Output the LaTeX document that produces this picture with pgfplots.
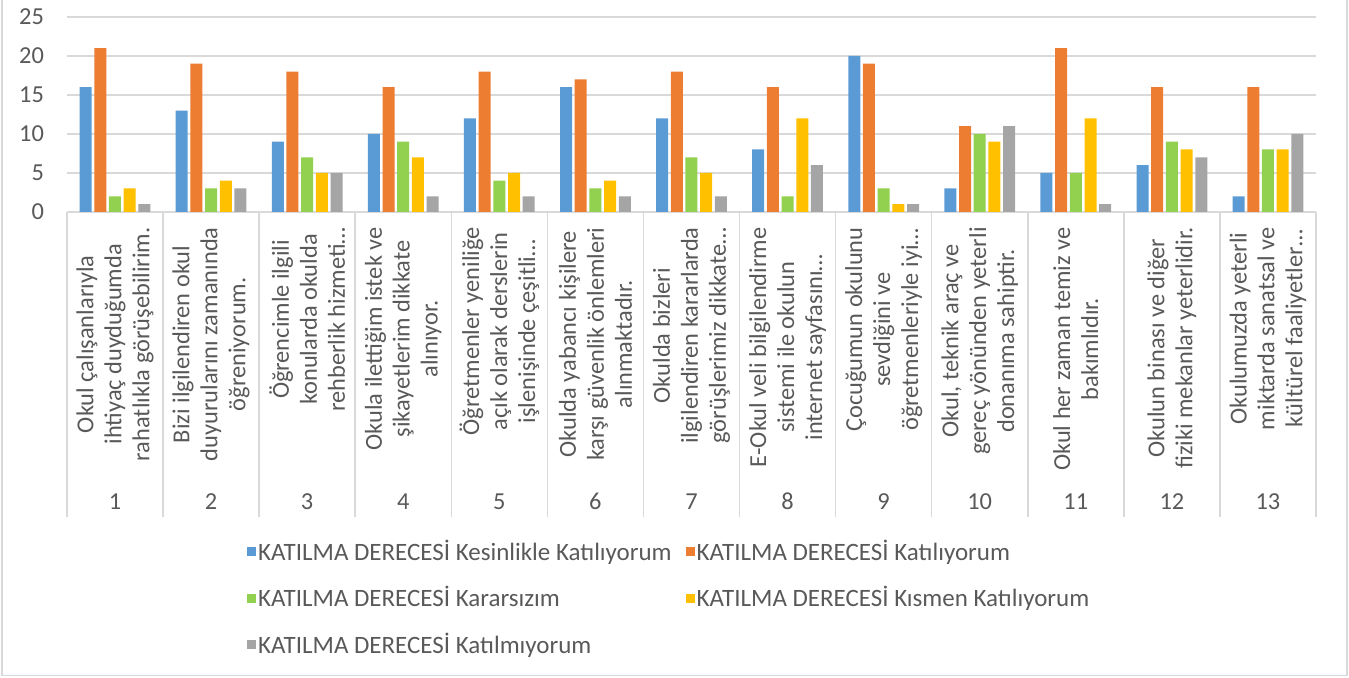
\documentclass[border=0pt]{standalone}
\usepackage{pgfplots}
\pgfplotsset{compat=1.18}
\usepackage{fontspec}
\setmainfont{Carlito}
\definecolor{cBlue}{HTML}{5B9BD5}
\definecolor{cOrange}{HTML}{ED7D31}
\definecolor{cGreen}{HTML}{92D050}
\definecolor{cYellow}{HTML}{FFC000}
\definecolor{cGrey}{HTML}{A5A5A5}
\definecolor{txt}{HTML}{595959}
\definecolor{gridc}{HTML}{D9D9D9}
\begin{document}
\begin{tikzpicture}
\useasboundingbox (-33.5pt,-233pt) rectangle (641.5pt,106pt);
\draw[gridc, line width=0.75pt] (-32.5pt,-232pt) rectangle (640.5pt,106.5pt);
\begin{axis}[
  at={(0,0)}, anchor=south west,
  scale only axis, width=625pt, height=97.5pt,
  ybar=1.35pt, bar width=6pt,
  xmin=0.5, xmax=13.5, ymin=0, ymax=25,
  xtick={1,...,13},
  xticklabels={
    {Okul çalışanlarıyla\\ihtiyaç duyduğumda\\rahatlıkla görüşebilirim.},
    {Bizi ilgilendiren okul\\duyurularını zamanında\\öğreniyorum.},
    {Öğrencimle ilgili\\konularda okulda\\rehberlik hizmeti…},
    {Okula ilettiğim istek ve\\şikayetlerim dikkate\\alınıyor.},
    {Öğretmenler yeniliğe\\açık olarak derslerin\\işlenişinde çeşitli…},
    {Okulda yabancı kişilere\\karşı güvenlik önlemleri\\alınmaktadır.},
    {Okulda bizleri\\ilgilendiren kararlarda\\görüşlerimiz dikkate…},
    {E-Okul veli bilgilendirme\\sistemi ile okulun\\internet sayfasını…},
    {Çocuğumun okulunu\\sevdiğini ve\\öğretmenleriyle iyi…},
    {Okul, teknik araç ve\\gereç yönünden yeterli\\donanıma sahiptir.},
    {Okul her zaman temiz ve\\bakımlıdır.},
    {Okulun binası ve diğer\\fiziki mekanlar yeterlidir.},
    {Okulumuzda yeterli\\miktarda sanatsal ve\\kültürel faaliyetler…}},
  ytick={0,5,...,25},
  ymajorgrids, grid style={gridc, line width=0.75pt},
  axis line style={draw=none},
  tick style={draw=none},
  clip=false,
  /pgf/number format/assume math mode=true,
  tick label style={font=\fontsize{12.2}{14}\selectfont, text=txt},
  yticklabel style={xshift=-8pt},
  xticklabel style={rotate=90, anchor=east, align=center},
  legend columns=2,
  legend cell align=left,
  legend image code/.code={\fill[#1] (0pt,-2.25pt) rectangle (4.5pt,2.25pt);},
  legend style={at={(axis description cs:0,0)}, anchor=north west,
    xshift=90pt, yshift=-163pt, draw=none, fill=none, inner sep=0pt,
    nodes={inner sep=1pt},
    font=\fontsize{12.5}{14}\selectfont, text=txt, row sep=9.5pt,
    /tikz/every even column/.append style={column sep=6pt}},
]
\addplot[fill=cBlue, draw=none] coordinates {(1,16)(2,13)(3,9)(4,10)(5,12)(6,16)(7,12)(8,8)(9,20)(10,3)(11,5)(12,6)(13,2)};
\addplot[fill=cOrange, draw=none] coordinates {(1,21)(2,19)(3,18)(4,16)(5,18)(6,17)(7,18)(8,16)(9,19)(10,11)(11,21)(12,16)(13,16)};
\addplot[fill=cGreen, draw=none] coordinates {(1,2)(2,3)(3,7)(4,9)(5,4)(6,3)(7,7)(8,2)(9,3)(10,10)(11,5)(12,9)(13,8)};
\addplot[fill=cYellow, draw=none] coordinates {(1,3)(2,4)(3,5)(4,7)(5,5)(6,4)(7,5)(8,12)(9,1)(10,9)(11,12)(12,8)(13,8)};
\addplot[fill=cGrey, draw=none] coordinates {(1,1)(2,3)(3,5)(4,2)(5,2)(6,2)(7,2)(8,6)(9,1)(10,11)(11,1)(12,7)(13,10)};
\legend{KATILMA DERECESİ Kesinlikle Katılıyorum, KATILMA DERECESİ Katılıyorum, KATILMA DERECESİ Kararsızım, KATILMA DERECESİ Kısmen Katılıyorum, KATILMA DERECESİ Katılmıyorum}
\pgfplotsinvokeforeach{0.5,1.5,...,13.5}{\draw[gridc, line width=0.75pt] (axis cs:#1,0) -- ([yshift=-152.5pt]axis cs:#1,0);}
\pgfplotsinvokeforeach{1,...,13}{\node[font=\fontsize{12.2}{14}\selectfont, text=txt] at ([yshift=-145pt]axis cs:#1,0) {#1};}
\end{axis}
\end{tikzpicture}
\end{document}
